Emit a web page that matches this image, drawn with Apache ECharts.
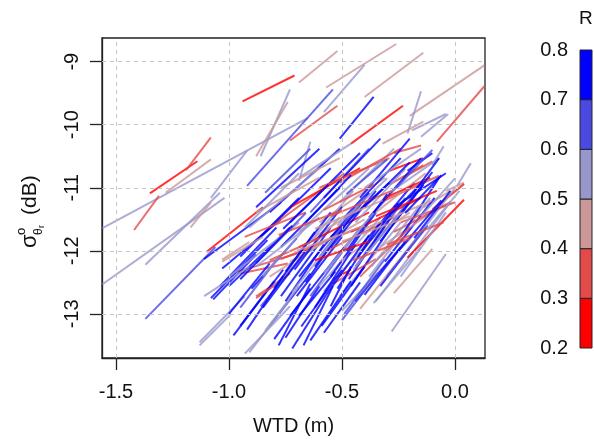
<!DOCTYPE html>
<html><head><meta charset="utf-8">
<script src="https://cdn.jsdelivr.net/npm/echarts@6/dist/echarts.min.js"></script>
<style>html,body{margin:0;padding:0;background:#fff}#c{width:594px;height:441px}</style>
</head><body><div id="c"></div>
<script>
const xTicks = [-1.5, -1.0, -0.5, 0.0];
const yTicks = [-13, -12, -11, -10, -9];
const rBreaks = [0.2, 0.3, 0.4, 0.5, 0.6, 0.7, 0.8];
const rColors = ['#ff0000', '#e34a4a', '#cc9797', '#9797cc', '#4a4ae3', '#0000ff'];

const x0 = [
-0.94,-1.35,-1.19,-1.28,-1.56,-1.56,-1.37,-1.42,-1.17,-1.08,
-0.86,-0.88,-0.92,-0.73,-0.69,-0.57,-0.40,-0.20,-0.08,-0.21,
-0.58,-0.51,-0.46,-0.32,-0.19,0.01,-0.04,-0.15,-0.10,-0.27,
-0.29,-0.10,-0.29,-0.23,-0.21,-0.07,-0.14,-0.69,-1.08,-1.04,
-0.98,-1.10,-1.13,-0.78,-0.67,-0.82,-0.86,-0.88,-0.96,-0.91,
-0.55,-0.70,-0.54,-1.03,-1.03,-1.07,-0.95,-1.13,-1.37,-1.11,
-0.93,-0.75,-0.95,-0.88,-0.77,-0.73,-0.80,-0.82,-0.77,-0.69,
-0.64,-0.60,-0.69,-0.73,-0.55,-0.62,-0.51,-0.58,-0.46,-0.51,
-0.44,-0.49,-0.46,-0.42,-0.38,-0.42,-0.50,-0.54,-0.35,-0.58,
-0.28,-0.21,-0.27,-0.33,-0.31,-0.24,-0.33,-0.27,-0.24,-0.20,
-0.24,-0.33,-0.86,-0.82,-0.82,-0.91,-0.88,-0.77,-0.73,-0.73,
-0.69,-0.64,-0.60,-0.58,-0.60,-0.51,-0.49,-0.51,-0.42,-0.40,
-0.35,-0.38,-0.31,-0.29,-0.27,-0.20,-0.69,-0.77,-0.95,-1.00,
-1.00,-0.93,-0.88,-0.75,-1.03,-1.11,-0.88,-0.93,-0.36,-0.64,
-0.59,-0.49,-0.44,-0.84,-0.69,-0.42,-0.62,-0.55,-0.84,
-0.62,-0.57,-0.52,-0.47,-0.66,-0.71,-0.60,-0.55,-0.48,-0.43,
-0.38,-0.33,-0.28,-0.80,-0.85,-0.90,-0.95,-0.75,-0.68,-0.58,
-0.50,-0.40,-0.30,-0.25,-0.18,-0.65,-0.58,-0.45,-0.37,-0.72,
-0.85,-0.52,-0.44,-0.62,-0.50,-0.70,-0.40,-0.78,-0.55,-0.45,
-0.35,-0.62,-0.30,-0.82,-0.58,-0.48,-0.40,-0.32,-0.26,-0.22,
-0.15,-0.12,-1.00,-0.92,-0.80,-0.72,-0.88,-0.95,-0.76,-0.66];
const y0 = [
-9.63,-11.09,-10.72,-11.08,-11.64,-12.53,-12.22,-11.67,-11.63,-11.16,
-10.50,-10.50,-10.97,-10.25,-9.33,-9.41,-9.56,-9.86,-10.27,-10.14,
-9.80,-10.22,-10.30,-10.30,-10.09,-10.97,-11.05,-10.19,-11.34,-10.45,
-10.73,-10.64,-10.95,-10.84,-10.73,-11.27,-11.31,-10.89,-12.75,-12.56,
-13.34,-12.02,-13.50,-13.50,-13.50,-13.19,-12.88,-12.72,-12.33,-13.61,
-12.88,-12.72,-12.45,-12.28,-12.14,-12.77,-13.19,-13.45,-13.08,-12.13,
-13.63,-13.38,-12.36,-12.75,-12.72,-13.03,-12.56,-12.41,-12.13,-12.41,
-12.72,-12.56,-11.94,-12.17,-12.41,-12.25,-12.72,-12.02,-12.56,-12.17,
-12.25,-11.94,-11.70,-11.94,-12.41,-12.92,-12.95,-12.52,-12.80,-12.64,
-13.28,-12.11,-12.67,-12.56,-12.17,-12.41,-11.94,-11.70,-11.78,-11.94,
-11.55,-11.23,-11.78,-11.39,-11.63,-11.63,-11.39,-11.94,-11.55,-11.31,
-11.70,-11.39,-11.55,-11.16,-11.00,-11.23,-11.47,-10.92,-11.16,-11.00,
-11.39,-11.47,-11.16,-11.08,-11.31,-11.16,-10.84,-11.00,-12.09,-12.56,
-12.41,-11.78,-12.25,-12.33,-12.17,-12.72,-11.31,-11.63,-12.83,-13.42,
-13.19,-13.00,-12.80,-13.27,-13.03,-12.41,-11.78,-11.78,-11.08,
-12.90,-12.70,-12.60,-12.45,-12.50,-12.30,-12.10,-11.95,-12.00,-12.10,
-12.00,-11.85,-11.60,-12.60,-12.90,-12.60,-12.90,-12.80,-13.20,-13.30,
-13.10,-12.70,-12.40,-12.00,-11.80,-11.90,-12.35,-12.30,-12.25,-12.65,
-12.40,-11.60,-11.55,-11.65,-11.85,-12.00,-11.65,-11.75,-11.45,-12.15,
-11.45,-12.15,-11.90,-12.15,-11.35,-11.10,-11.30,-11.55,-11.00,-11.40,
-11.45,-11.65,-13.00,-13.25,-13.40,-13.55,-12.20,-12.45,-11.65,-11.55];
const x1 = [
-0.71,-1.14,-1.08,-1.08,-0.65,-1.02,-1.04,-1.31,-1.08,-0.92,
-0.73,-0.74,-0.54,-0.52,-0.52,-0.26,-0.14,0.13,0.13,-0.15,
-0.40,-0.36,-0.23,-0.14,-0.04,0.07,0.04,-0.03,0.04,-0.15,
-0.14,-0.05,-0.14,-0.10,-0.10,0.04,-0.02,-0.64,-0.83,-0.79,
-0.76,-0.85,-0.99,-0.64,-0.54,-0.64,-0.65,-0.73,-0.64,-0.73,
-0.46,-0.50,-0.46,-0.77,-0.91,-0.88,-0.80,-0.93,-1.06,-0.77,
-0.73,-0.60,-0.74,-0.79,-0.55,-0.49,-0.51,-0.51,-0.42,-0.44,
-0.42,-0.33,-0.38,-0.40,-0.35,-0.38,-0.24,-0.27,-0.27,-0.20,
-0.22,-0.22,-0.15,-0.18,-0.11,-0.14,-0.17,-0.35,-0.02,-0.29,
-0.04,0.04,-0.10,-0.13,-0.09,-0.04,-0.07,-0.02,-0.07,0.00,
0.00,-0.07,-0.55,-0.51,-0.49,-0.60,-0.60,-0.51,-0.42,-0.42,
-0.38,-0.38,-0.31,-0.33,-0.29,-0.27,-0.24,-0.24,-0.20,-0.15,
-0.13,-0.15,-0.11,-0.07,-0.04,-0.07,-0.46,-0.51,-0.69,-0.73,
-0.69,-0.66,-0.60,-0.55,-0.85,-0.91,-0.60,-0.69,-0.15,-0.46,
-0.40,-0.31,-0.24,-0.69,-0.53,-0.20,-0.35,-0.29,-0.64,
-0.44,-0.38,-0.33,-0.28,-0.47,-0.50,-0.40,-0.35,-0.30,-0.25,
-0.18,-0.14,-0.10,-0.62,-0.66,-0.70,-0.78,-0.58,-0.50,-0.42,
-0.34,-0.22,-0.12,-0.06,-0.02,-0.45,-0.36,-0.24,-0.16,-0.52,
-0.64,-0.30,-0.22,-0.32,-0.20,-0.40,-0.10,-0.50,-0.28,-0.20,
-0.08,-0.38,-0.05,-0.60,-0.36,-0.30,-0.20,-0.14,-0.10,-0.06,
0.00,0.02,-0.82,-0.76,-0.64,-0.57,-0.66,-0.72,-0.56,-0.46];
const y1 = [
-9.22,-10.58,-10.20,-10.55,-9.89,-11.16,-11.08,-11.13,-11.23,-10.41,
-9.44,-9.64,-9.44,-9.70,-8.83,-8.72,-8.86,-9.06,-9.39,-9.47,
-9.05,-9.56,-9.70,-9.95,-9.83,-10.61,-10.92,-9.83,-10.94,-10.33,
-10.53,-10.34,-10.64,-10.58,-10.45,-10.94,-11.05,-10.27,-11.83,-11.63,
-12.30,-11.31,-13.00,-12.52,-12.56,-12.36,-11.98,-12.36,-11.98,-12.77,
-12.25,-11.78,-12.30,-11.50,-11.86,-12.06,-12.48,-12.72,-11.94,-11.23,
-12.88,-12.56,-12.20,-12.53,-11.63,-11.94,-11.47,-11.70,-11.63,-11.31,
-11.63,-11.47,-11.39,-11.50,-11.39,-11.08,-11.55,-11.47,-11.55,-11.39,
-11.16,-10.84,-11.16,-10.92,-11.16,-11.66,-11.70,-12.13,-11.23,-11.50,
-12.05,-11.19,-11.97,-11.63,-11.16,-11.39,-11.31,-11.23,-10.84,-11.00,
-11.23,-10.81,-10.69,-10.38,-10.77,-10.69,-10.84,-11.00,-10.45,-10.69,
-10.69,-10.38,-10.84,-10.22,-10.53,-10.38,-10.53,-10.38,-10.22,-10.38,
-10.77,-10.53,-10.84,-10.53,-10.77,-10.53,-10.30,-10.53,-11.16,-11.63,
-11.55,-11.39,-11.47,-11.39,-11.78,-12.25,-10.38,-10.77,-11.94,-12.48,
-12.25,-12.13,-11.94,-12.56,-12.33,-11.63,-11.16,-10.92,-10.38,
-11.90,-11.75,-11.55,-11.45,-11.50,-11.30,-11.15,-11.05,-11.10,-11.25,
-11.10,-10.95,-10.75,-11.70,-12.00,-11.80,-12.10,-11.90,-12.30,-12.50,
-12.35,-11.85,-11.60,-11.20,-11.05,-11.05,-11.40,-11.40,-11.30,-11.75,
-11.55,-10.85,-10.70,-11.20,-11.45,-11.60,-11.20,-11.35,-11.05,-11.80,
-11.05,-11.85,-11.55,-11.80,-10.95,-10.55,-10.60,-10.90,-10.40,-10.80,
-10.85,-11.05,-12.20,-12.40,-12.60,-12.70,-11.40,-11.60,-10.95,-10.80];
const rValue = [
0.25,0.25,0.33,0.45,0.55,0.55,0.55,0.33,0.45,0.55,
0.55,0.45,0.65,0.35,0.45,0.45,0.45,0.45,0.33,0.55,
0.55,0.75,0.25,0.45,0.55,0.55,0.42,0.55,0.35,0.35,
0.25,0.55,0.3,0.3,0.75,0.3,0.45,0.55,0.75,0.7,
0.75,0.25,0.55,0.75,0.7,0.75,0.65,0.3,0.3,0.55,
0.7,0.75,0.25,0.7,0.45,0.7,0.75,0.55,0.65,0.75,
0.55,0.75,0.3,0.3,0.75,0.7,0.55,0.45,0.3,0.75,
0.65,0.55,0.25,0.45,0.75,0.7,0.55,0.3,0.75,0.45,
0.65,0.55,0.25,0.75,0.55,0.45,0.55,0.3,0.55,0.55,
0.55,0.25,0.45,0.7,0.75,0.55,0.45,0.35,0.75,0.55,
0.3,0.3,0.75,0.7,0.3,0.55,0.45,0.75,0.75,0.25,
0.55,0.65,0.45,0.75,0.3,0.55,0.7,0.3,0.75,0.55,
0.45,0.75,0.25,0.55,0.7,0.75,0.55,0.45,0.75,0.75,
0.55,0.3,0.55,0.75,0.45,0.55,0.75,0.55,0.55,0.75,
0.7,0.65,0.75,0.55,0.75,0.3,0.45,0.7,0.65,
0.75,0.75,0.7,0.75,0.7,0.75,0.65,0.75,0.7,0.75,
0.65,0.75,0.7,0.75,0.7,0.75,0.65,0.75,0.75,0.7,
0.65,0.7,0.65,0.75,0.7,0.55,0.55,0.55,0.55,0.55,
0.55,0.55,0.55,0.45,0.45,0.45,0.45,0.3,0.3,0.3,
0.25,0.25,0.3,0.35,0.35,0.65,0.75,0.7,0.65,0.75,
0.55,0.55,0.75,0.75,0.7,0.75,0.65,0.7,0.75,0.7];

const FONT = "'Liberation Sans', Arial, sans-serif";
function colorFor(r) {
  for (let i = 0; i < rColors.length; i++) if (r < rBreaks[i + 1]) return rColors[i];
  return rColors[rColors.length - 1];
}
const segData = x0.map((v, i) => ({
  coords: [[v, y0[i]], [x1[i], y1[i]]],
  lineStyle: { color: colorFor(rValue[i]) }
}));
const bandData = rColors.map((c, i) => [rBreaks[i], rBreaks[i + 1], i]);

const chart = echarts.init(document.getElementById('c'), null, { renderer: 'canvas' });
chart.setOption({
  animation: false,
  backgroundColor: '#fff',
  textStyle: { fontFamily: FONT },
  grid: [
    { left: 102, top: 38, width: 383, height: 322, show: true, borderColor: '#222', borderWidth: 1.3, backgroundColor: 'transparent' },
    { left: 580, top: 50, width: 12, height: 298 }
  ],
  xAxis: [
    { gridIndex: 0, type: 'value', min: -1.562, max: 0.133,
      axisLine: { show: true, onZero: false, lineStyle: { color: '#222', width: 1.3 } },
      axisTick: { show: true, customValues: xTicks, length: 12, lineStyle: { color: '#222', width: 1.3 } },
      axisLabel: { customValues: xTicks, formatter: v => v.toFixed(1), margin: 24, fontSize: 20, color: '#111', fontFamily: FONT },
      splitLine: { show: false },
      name: 'WTD (m)', nameLocation: 'middle', nameGap: 58,
      nameTextStyle: { fontSize: 20, color: '#111', fontFamily: FONT } },
    { gridIndex: 1, type: 'value', min: 0, max: 1, show: false }
  ],
  yAxis: [
    { gridIndex: 0, type: 'value', min: -13.70, max: -8.625,
      axisLine: { show: true, onZero: false, lineStyle: { color: '#222', width: 1.3 } },
      axisTick: { show: true, customValues: yTicks, length: 12, lineStyle: { color: '#222', width: 1.3 } },
      axisLabel: { customValues: yTicks, formatter: v => String(v), rotate: 90, margin: 20, fontSize: 20, color: '#111', fontFamily: FONT },
      splitLine: { show: false } },
    { gridIndex: 1, type: 'value', min: 0.2, max: 0.8,
      axisLine: { show: false }, axisTick: { show: false }, splitLine: { show: false },
      axisLabel: { customValues: rBreaks, formatter: v => v.toFixed(1), margin: 12, fontSize: 20, color: '#111', fontFamily: FONT } }
  ],
  series: [
    { type: 'line', xAxisIndex: 0, yAxisIndex: 0, data: [], silent: true, z: 1,
      markLine: { silent: true, symbol: ['none', 'none'], label: { show: false },
        lineStyle: { type: [4, 4], color: '#c4c4c4', width: 1 },
        data: xTicks.map(v => ({ xAxis: v })).concat(yTicks.map(v => ({ yAxis: v }))) } },
    { type: 'lines', coordinateSystem: 'cartesian2d', xAxisIndex: 0, yAxisIndex: 0, polyline: false,
      silent: true, z: 3, data: segData, lineStyle: { width: 2, opacity: 0.8 } },
    { type: 'custom', xAxisIndex: 1, yAxisIndex: 1, data: bandData, encode: { y: [0, 1] }, silent: true,
      renderItem: (params, api) => {
        const p0 = api.coord([0, api.value(0)]);
        const p1 = api.coord([1, api.value(1)]);
        return { type: 'rect', shape: { x: p0[0], y: p1[1], width: p1[0] - p0[0], height: p0[1] - p1[1] },
          style: { fill: rColors[api.value(2)], stroke: '#222', lineWidth: 1 } };
      } }
  ],
  graphic: [
    { type: 'text', left: 579, top: 9, style: { text: 'R', font: "19px " + FONT, fill: '#111' } },
    { type: 'group', x: 30, y: 190, rotation: Math.PI / 2, children: [
      { type: 'text', x: -58, y: 0, style: { text: 'σ', font: "22px " + FONT, fill: '#111', verticalAlign: 'middle' } },
      { type: 'text', x: -45, y: -9, style: { text: 'o', font: "13px " + FONT, fill: '#111', verticalAlign: 'middle' } },
      { type: 'text', x: -45, y: 9, style: { text: 'θ', font: "12px " + FONT, fill: '#111', verticalAlign: 'middle' } },
      { type: 'text', x: -38, y: 12, style: { text: 'r', font: "9px " + FONT, fill: '#111', verticalAlign: 'middle' } },
      { type: 'text', x: -25, y: 0, style: { text: '(dB)', font: "21px " + FONT, fill: '#111', verticalAlign: 'middle' } }
    ] }
  ]
});
</script></body></html>
